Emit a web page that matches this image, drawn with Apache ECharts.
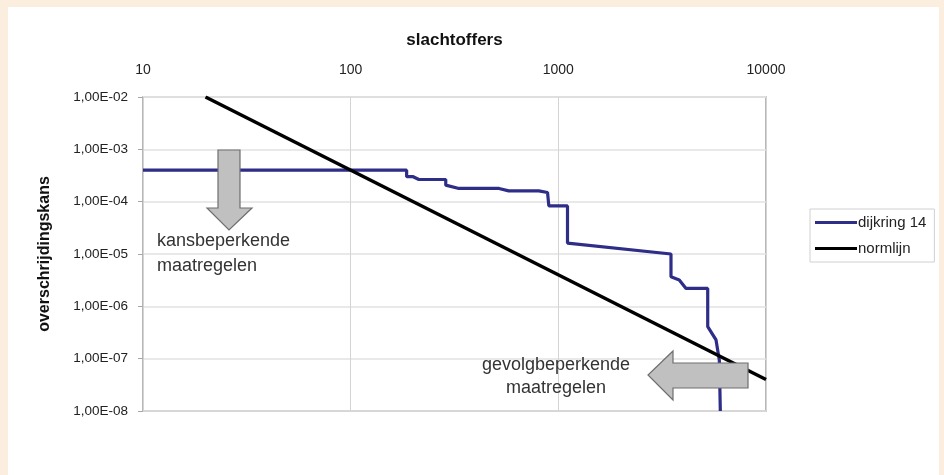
<!DOCTYPE html>
<html>
<head>
<meta charset="utf-8">
<script src="https://cdn.jsdelivr.net/npm/echarts@6/dist/echarts.min.js"></script>
<style>
  html, body { margin: 0; padding: 0; background: #FBEEDF; }
  #panel { position: absolute; left: 8px; top: 7px; width: 931px; height: 468px; background: #ffffff; }
  #chart { position: absolute; left: 0; top: 0; width: 944px; height: 475px; }
</style>
</head>
<body>
<div id="panel"></div>
<div id="chart"></div>
<script>
// ---- data ----
const xTickLabels = ['10', '100', '1000', '10000'];
const yTickLabels = ['1,00E-08', '1,00E-07', '1,00E-06', '1,00E-05', '1,00E-04', '1,00E-03', '1,00E-02'];

const dijkringN = [10, 186, 186, 200, 213, 287, 287, 332, 518, 577, 805, 887, 900, 900, 1107, 1107, 3487, 3487, 3823, 4119, 5240, 5240, 5746, 5960, 6026];
const dijkringP = [4.0e-4, 4.0e-4, 3.0e-4, 3.0e-4, 2.65e-4, 2.65e-4, 2.07e-4, 1.79e-4, 1.79e-4, 1.61e-4, 1.61e-4, 1.5e-4, 1.5e-4, 8.3e-5, 8.3e-5, 1.62e-5, 1.0e-5, 3.67e-6, 3.2e-6, 2.2e-6, 2.2e-6, 4.1e-7, 2.28e-7, 9.3e-8, 1.0e-8];

const normN = [20, 10000];
const normP = [1.0e-2, 4.0e-8];

const seriesNames = ['dijkring 14', 'normlijn'];

// ---- chart ----
const chart = echarts.init(document.getElementById('chart'));
const font = 'Liberation Sans, Arial, sans-serif';

function zip(a, b) { return a.map((v, i) => [v, b[i]]); }

const option = {
  backgroundColor: 'transparent',
  animation: false,
  textStyle: { fontFamily: font },
  grid: {
    left: 143, top: 97, width: 623, height: 314,
    show: true, borderColor: '#A0A0A0', borderWidth: 1.5, backgroundColor: '#ffffff'
  },
  legend: {
    left: 810, top: 209,
    orient: 'vertical',
    icon: 'rect',
    padding: [6, 8, 6, 5],
    itemGap: 11,
    itemWidth: 42, itemHeight: 3,
    borderColor: '#D0D0D0', borderWidth: 1,
    backgroundColor: '#ffffff',
    data: seriesNames,
    textStyle: { fontFamily: font, fontSize: 15, color: '#222', padding: [0, 0, 0, -4] }
  },
  xAxis: {
    type: 'log', logBase: 10, min: 10, max: 10000,
    position: 'top',
    name: 'slachtoffers',
    nameLocation: 'middle', nameGap: 48,
    nameTextStyle: { fontFamily: font, fontSize: 17, fontWeight: 'bold', color: '#111' },
    axisLine: { show: false },
    axisTick: { show: false },
    axisLabel: {
      margin: 20, fontSize: 14, color: '#222', fontFamily: font,
      formatter: function (v) { const i = Math.round(Math.log10(v)) - 1; return xTickLabels[i] !== undefined ? xTickLabels[i] : ''; }
    },
    splitLine: { show: true, lineStyle: { color: '#D4D4D4', width: 1 } },
    minorTick: { show: false }
  },
  yAxis: {
    type: 'log', logBase: 10, min: 1e-8, max: 1e-2,
    name: 'overschrijdingskans',
    nameLocation: 'middle', nameGap: 90,
    nameTextStyle: { fontFamily: font, fontSize: 16, fontWeight: 'bold', color: '#111' },
    axisLine: { show: false },
    axisTick: { show: true, length: 5, lineStyle: { color: '#A6A6A6' } },
    axisLabel: {
      margin: 15, fontSize: 13.5, color: '#222', fontFamily: font,
      formatter: function (v) { const i = Math.round(Math.log10(v)) + 8; return yTickLabels[i] !== undefined ? yTickLabels[i] : ''; }
    },
    splitLine: { show: true, lineStyle: { color: '#E2E2E2', width: 1.5 } }
  },
  series: [
    {
      name: seriesNames[0], type: 'line', data: zip(dijkringN, dijkringP),
      showSymbol: false, symbol: 'none',
      lineStyle: { color: '#2E2D88', width: 3.2 },
      itemStyle: { color: '#2E2D88' },
      z: 3
    },
    {
      name: seriesNames[1], type: 'line', data: zip(normN, normP),
      showSymbol: false, symbol: 'none',
      lineStyle: { color: '#000000', width: 3.5 },
      itemStyle: { color: '#000000' },
      z: 4
    }
  ],
  graphic: [
    // down arrow (kansbeperkende maatregelen)
    {
      type: 'polygon', z: 10,
      shape: { points: [[218, 150], [240, 150], [240, 208], [252, 208], [229, 230], [207, 208], [218, 208]] },
      style: { fill: '#C0C0C0', stroke: '#6E6E6E', lineWidth: 1.2 }
    },
    {
      type: 'text', z: 10, x: 157, y: 229,
      style: { text: 'kansbeperkende\nmaatregelen', font: '18px ' + font, fill: '#333', lineHeight: 25 }
    },
    // left arrow (gevolgbeperkende maatregelen)
    {
      type: 'polygon', z: 10,
      shape: { points: [[748, 363], [748, 388], [673, 388], [673, 400], [648, 375], [673, 351], [673, 363]] },
      style: { fill: '#C0C0C0', stroke: '#6E6E6E', lineWidth: 1.2 }
    },
    {
      type: 'text', z: 10, x: 556, y: 354,
      style: { text: 'gevolgbeperkende\nmaatregelen', font: '18px ' + font, fill: '#333', lineHeight: 23, align: 'center' }
    }
  ]
};
chart.setOption(option);
</script>
</body>
</html>
